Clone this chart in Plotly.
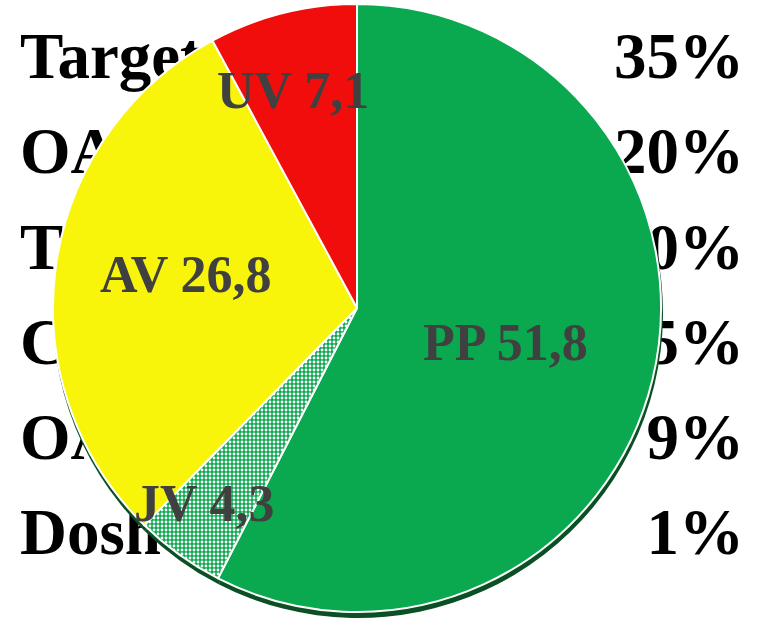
import plotly.graph_objects as go

# Pie data
slice_labels = ["PP", "JV", "AV", "UV"]
slice_values = [51.8, 4.3, 26.8, 7.1]
slice_colors = ["#0BA94F", "#0BA94F", "#F8F50B", "#F20D0D"]
slice_patterns = ["", ".", "", ""]

# Background text rows (partly hidden by the pie)
row_left = ["Target", "OA", "T", "C", "OA", "Dosh"]
row_right = ["35%", "20%", "10%", "15%", "9%", "1%"]
row_index = [0, 1, 2, 3, 4, 5]

W, H = 757, 630

fig = go.Figure()

bg_font = dict(family="Liberation Serif", size=65, color="#000000", weight="bold")
fig.add_trace(go.Scatter(x=[20] * len(row_left), y=row_index, text=row_left, mode="text",
                         textposition="middle right", textfont=bg_font, hoverinfo="skip",
                         showlegend=False))
fig.add_trace(go.Scatter(x=[744] * len(row_right), y=row_index, text=row_right, mode="text",
                         textposition="middle left", textfont=bg_font, hoverinfo="skip",
                         showlegend=False))

def dom(cx, cy, r):
    return dict(x=[(cx - r) / W, (cx + r) / W], y=[(H - cy - r) / H, (H - cy + r) / H])

# shadow rim (3D look)
fig.add_trace(go.Pie(labels=slice_labels, values=slice_values, sort=False, direction="clockwise",
                     rotation=0, textinfo="none", hoverinfo="skip", showlegend=False,
                     marker=dict(colors=["#0B4F24"] * 4, line=dict(color="#0B4F24", width=0)),
                     domain=dom(358, 313, 305)))

fig.add_trace(go.Pie(labels=slice_labels, values=slice_values, sort=False, direction="clockwise",
                     rotation=0, textinfo="none", showlegend=False,
                     marker=dict(colors=slice_colors, line=dict(color="white", width=2),
                                 pattern=dict(shape=slice_patterns, fgcolor="white",
                                              bgcolor=slice_colors, size=4, solidity=0.4)),
                     domain=dom(357, 308, 304)))

label_pos = {"UV": (293, 91), "AV": (185, 274), "PP": (505, 343), "JV": (205, 503)}
for lab, val in zip(slice_labels, slice_values):
    px, py = label_pos[lab]
    fig.add_annotation(x=px / W, y=1 - py / H, xref="paper", yref="paper",
                       text=f"{lab} {val:.1f}".replace(".", ","), showarrow=False,
                       xanchor="center", yanchor="middle",
                       font=dict(family="Liberation Serif", size=52, color="#404040", weight="bold"))

fig.update_layout(
    width=W, height=H, margin=dict(l=0, r=0, t=0, b=0),
    paper_bgcolor="white", plot_bgcolor="white",
    xaxis=dict(range=[0, W], visible=False, fixedrange=True),
    yaxis=dict(range=[(H - 62) / 95.2, -62 / 95.2], visible=False, fixedrange=True),
    showlegend=False,
)

fig.write_html("out.html", config={"displayModeBar": False},
               post_script="document.body.style.margin='0';")
